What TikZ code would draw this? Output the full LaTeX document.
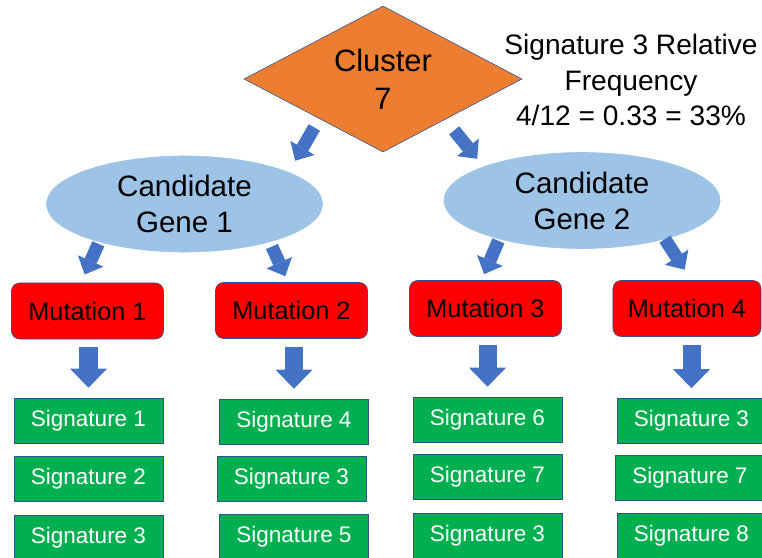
\documentclass[tikz,border=0pt]{standalone}
\usepackage{fontspec}
\setmainfont{Liberation Sans}
\usetikzlibrary{arrows.meta,shapes.geometric}
\definecolor{cluorange}{HTML}{ED7D31}
\definecolor{genefill}{HTML}{9DC3E6}
\definecolor{mutred}{HTML}{FF0000}
\definecolor{siggreen}{HTML}{00B050}
\definecolor{shapeedge}{HTML}{2F528F}
\definecolor{arrblue}{HTML}{4472C4}

\begin{document}
\begin{tikzpicture}[x=0.025cm, y=-0.025cm,
    clus/.style={diamond, aspect=1.9, draw=shapeedge, fill=cluorange, inner sep=0pt, minimum width=6.95cm, minimum height=3.65cm, align=center, font=\fontsize{22}{27}\selectfont},
    gene/.style={ellipse, draw=genefill, fill=genefill, inner sep=0pt, minimum width=6.9cm, minimum height=2.4cm, align=center, font=\fontsize{21}{25.6}\selectfont},
    mut/.style={draw=shapeedge, fill=mutred, rounded corners=0.2cm, minimum width=3.8cm, minimum height=1.4cm, font=\fontsize{18}{21}\selectfont},
    sig/.style={draw=shapeedge, fill=siggreen, text=white, minimum width=3.725cm, minimum height=1.125cm, font=\fontsize{16}{19}\selectfont},
    blk/.style={line width=0.325cm, draw=arrblue, -{Triangle[width=0.7cm, length=0.37cm, line width=0pt]}},
    blkdown/.style={line width=0.45cm, draw=arrblue, shorten <=0.2cm, shorten >=0.25cm, -{Triangle[width=0.925cm, length=0.475cm, line width=0pt]}}
  ]
    \useasboundingbox (0,0) rectangle (762,558);
    \clip (0,0) rectangle (762,558);

    \node[clus] (clu) at (383,79) {Cluster\\7};
    \node[align=center, font=\fontsize{20}{25}\selectfont] (freq) at (631,80) {Signature 3 Relative\\Frequency\\4/12 = 0.33 = 33\%};

    \node[gene] (g1) at (184.5,204) {Candidate\\Gene 1};
    \node[gene] (g2) at (582,200.5) {Candidate\\Gene 2};

    \node[mut] (m1) at (87.5,311) {Mutation 1};
    \node[mut] (m2) at (291.5,310.5) {Mutation 2};
    \node[mut] (m3) at (485.5,308.5) {Mutation 3};
    \node[mut, minimum width=3.7cm] (m4) at (687,308.5) {Mutation 4};

    \node[sig] (s11) at (88.5,420.5) {Signature 1};
    \node[sig] (s12) at (88.5,478.5) {Signature 2};
    \node[sig] (s13) at (88.5,537.5) {Signature 3};
    \node[sig] (s21) at (294,421.5) {Signature 4};
    \node[sig] (s22) at (291.5,478.5) {Signature 3};
    \node[sig] (s23) at (294,536.5) {Signature 5};
    \node[sig] (s31) at (487.5,419.5) {Signature 6};
    \node[sig] (s32) at (487.5,477) {Signature 7};
    \node[sig] (s33) at (487.5,535.5) {Signature 3};
    \node[sig] (s41) at (691.5,421) {Signature 3};
    \node[sig] (s42) at (690,477.5) {Signature 7};
    \node[sig] (s43) at (691.5,535.5) {Signature 8};

    \draw[blk, shorten <=0.25cm, shorten >=0.33cm] (clu.212) -- (g1.17.7);
    \draw[blk, shorten <=0.35cm, shorten >=0.25cm] (clu.327.8) -- (g2.161);
    \draw[blk, shorten <=0.05cm, shorten >=0.225cm] (g1.204.6) -- (m1.103.5);
    \draw[blk, shorten <=0.125cm, shorten >=0.165cm] (g1.336.5) -- (m2.97.7);
    \draw[blk, shorten <=0.045cm, shorten >=0.165cm] (g2.205.9) -- (m3.98.7);
    \draw[blk, shorten >=0.315cm] (g2.335.6) -- (m4.81.3);

    \draw[blkdown] (s11.north |- m1.south) -- (s11.north);
    \draw[blkdown] (s21.north |- m2.south) -- (s21.north);
    \draw[blkdown] (s31.north |- m3.south) -- (s31.north);
    \draw[blkdown] (s41.north |- m4.south) -- (s41.north);
  \end{tikzpicture}
\end{document}
